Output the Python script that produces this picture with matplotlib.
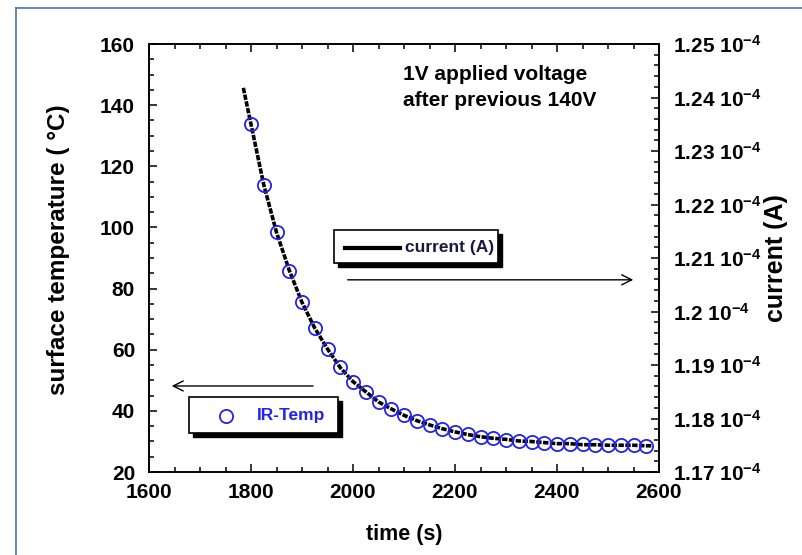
import matplotlib
matplotlib.use("Agg")
import matplotlib.pyplot as plt
from matplotlib.ticker import MultipleLocator, FuncFormatter
from matplotlib.patches import Rectangle
from matplotlib.lines import Line2D

plt.rcParams["font.family"] = ["Liberation Sans", "DejaVu Sans"]
plt.rcParams["font.weight"] = "bold"
plt.rcParams["axes.labelweight"] = "bold"
plt.rcParams["mathtext.fontset"] = "custom"
plt.rcParams["mathtext.rm"] = "Liberation Sans:bold"
plt.rcParams["mathtext.default"] = "regular"

# IR-Temp (circles), every 25 s
temp_time = [1800, 1825, 1850, 1875, 1900, 1925, 1950, 1975, 2000, 2025, 2050,
             2075, 2100, 2125, 2150, 2175, 2200, 2225, 2250, 2275, 2300, 2325,
             2350, 2375, 2400, 2425, 2450, 2475, 2500, 2525, 2550, 2575]
temp_vals = [133.8, 113.9, 98.4, 85.9, 75.5, 67.0, 60.3, 54.2, 49.6, 46.3, 43.0,
             40.6, 38.6, 36.8, 35.4, 34.1, 33.2, 32.3, 31.5, 31.0, 30.6, 30.2,
             29.9, 29.6, 29.3, 29.2, 29.0, 28.9, 28.8, 28.7, 28.7, 28.6]

# current (A)
cur_time = [1785, 1800, 1825, 1850, 1875, 1900, 1925, 1950, 1975, 2000, 2025,
            2050, 2075, 2100, 2125, 2150, 2175, 2200, 2225, 2250, 2275, 2300,
            2325, 2350, 2375, 2400, 2425, 2450, 2475, 2500, 2525, 2550, 2575, 2585]
cur_vals = [1.2418e-4, 1.2350e-4, 1.2237e-4, 1.2148e-4, 1.2077e-4, 1.2017e-4,
            1.1969e-4, 1.1930e-4, 1.1895e-4, 1.1869e-4, 1.1850e-4, 1.1831e-4,
            1.1818e-4, 1.1806e-4, 1.1796e-4, 1.1788e-4, 1.1781e-4, 1.1775e-4,
            1.1770e-4, 1.1766e-4, 1.1763e-4, 1.1761e-4, 1.1758e-4, 1.1757e-4,
            1.1755e-4, 1.1753e-4, 1.1753e-4, 1.1751e-4, 1.1751e-4, 1.1750e-4,
            1.1750e-4, 1.1750e-4, 1.1749e-4, 1.1749e-4]

BLUE = "#2323e6"

fig = plt.figure(figsize=(8.02, 5.55), dpi=100)
ax = fig.add_axes([149 / 802, 1 - 472 / 555, 510 / 802, 428 / 555])
ax2 = ax.twinx()

ax2.plot(cur_time, cur_vals, color="black", lw=2.6, linestyle=(0, (1.5, 0.4)), zorder=2)
ax.plot(temp_time, temp_vals, "o", mfc="none", mec=BLUE, ms=9.5, mew=1.3, zorder=3)
ax.set_zorder(ax2.get_zorder() + 1)
ax.patch.set_visible(False)

ax.set_xlim(1600, 2600)
ax.set_ylim(20, 160)
ax2.set_ylim(1.17e-4, 1.25e-4)

ax.xaxis.set_major_locator(MultipleLocator(200))
ax.xaxis.set_minor_locator(MultipleLocator(50))
ax.yaxis.set_major_locator(MultipleLocator(20))
ax.yaxis.set_minor_locator(MultipleLocator(5))
ax2.yaxis.set_major_locator(MultipleLocator(0.01e-4))
ax2.yaxis.set_minor_locator(MultipleLocator(0.002e-4))
ax2.yaxis.set_major_formatter(FuncFormatter(
    lambda v, p: f"{round(v * 1e4, 4):g} 10$^{{-4}}$"))

for a in (ax, ax2):
    a.tick_params(which="both", direction="in", labelsize=15, width=1.1)
    a.tick_params(which="major", length=6)
    a.tick_params(which="minor", length=3.6)
    for s in a.spines.values():
        s.set_linewidth(1.2)
ax.tick_params(which="both", top=True, right=False)
ax.tick_params(axis="x", pad=8)
ax.tick_params(axis="y", pad=10)
ax2.tick_params(axis="y", pad=10)

ax.set_xlabel("time (s)", fontsize=15.5, labelpad=16)
ax.set_ylabel("surface temperature ( °C)", fontsize=17.5, labelpad=22)
ax.yaxis.label.set_y(0.52)
ax2.set_ylabel("current (A)", fontsize=18, labelpad=2)

ax.text(0.498, 0.928, "1V applied voltage", transform=ax.transAxes,
        fontsize=15, ha="left", va="center")
ax.text(0.498, 0.869, "after previous 140V", transform=ax.transAxes,
        fontsize=15, ha="left", va="center")

# hand-drawn style legend boxes with drop shadow
def box(x0, y0, x1, y1):
    dx, dy = 4 / 510, 4 / 428
    ax.add_patch(Rectangle((x0 + dx, y0 - dy), x1 - x0, y1 - y0, transform=ax.transAxes,
                           facecolor="black", edgecolor="black", zorder=4))
    ax.add_patch(Rectangle((x0, y0), x1 - x0, y1 - y0, transform=ax.transAxes,
                           facecolor="white", edgecolor="black", lw=1.2, zorder=5))

box(0.363, 0.488, 0.684, 0.565)
ax.add_line(Line2D([0.384, 0.492], [0.524, 0.524], transform=ax.transAxes,
                   color="black", lw=3, zorder=6))
ax.text(0.502, 0.524, "current (A)", transform=ax.transAxes, fontsize=12.5,
        ha="left", va="center", color="#1a1a40", zorder=6)

box(0.078, 0.091, 0.371, 0.175)
ax.add_line(Line2D([0.151], [0.131], transform=ax.transAxes, marker="o", ms=9.5,
                   mfc="none", mec=BLUE, mew=1.3, zorder=6))
ax.text(0.212, 0.131, "IR-Temp", transform=ax.transAxes, fontsize=12.5,
        ha="left", va="center", color=BLUE, zorder=6)

ax.annotate("", xy=(0.039, 0.201), xytext=(0.327, 0.201), xycoords="axes fraction",
            arrowprops=dict(arrowstyle="->", lw=1.0, color="black",
                            mutation_scale=18))
ax.annotate("", xy=(0.955, 0.449), xytext=(0.384, 0.449), xycoords="axes fraction",
            arrowprops=dict(arrowstyle="->", lw=1.0, color="black",
                            mutation_scale=18))

# slide frame (blue border top / left)
fig.add_artist(Line2D([16 / 802, 1], [1 - 8 / 555, 1 - 8 / 555],
                      transform=fig.transFigure, color="#4472c4", lw=1.2))
fig.add_artist(Line2D([16 / 802, 16 / 802], [0, 1 - 8 / 555],
                      transform=fig.transFigure, color="#4472c4", lw=1.2))

fig.savefig("out.png", dpi=100)
